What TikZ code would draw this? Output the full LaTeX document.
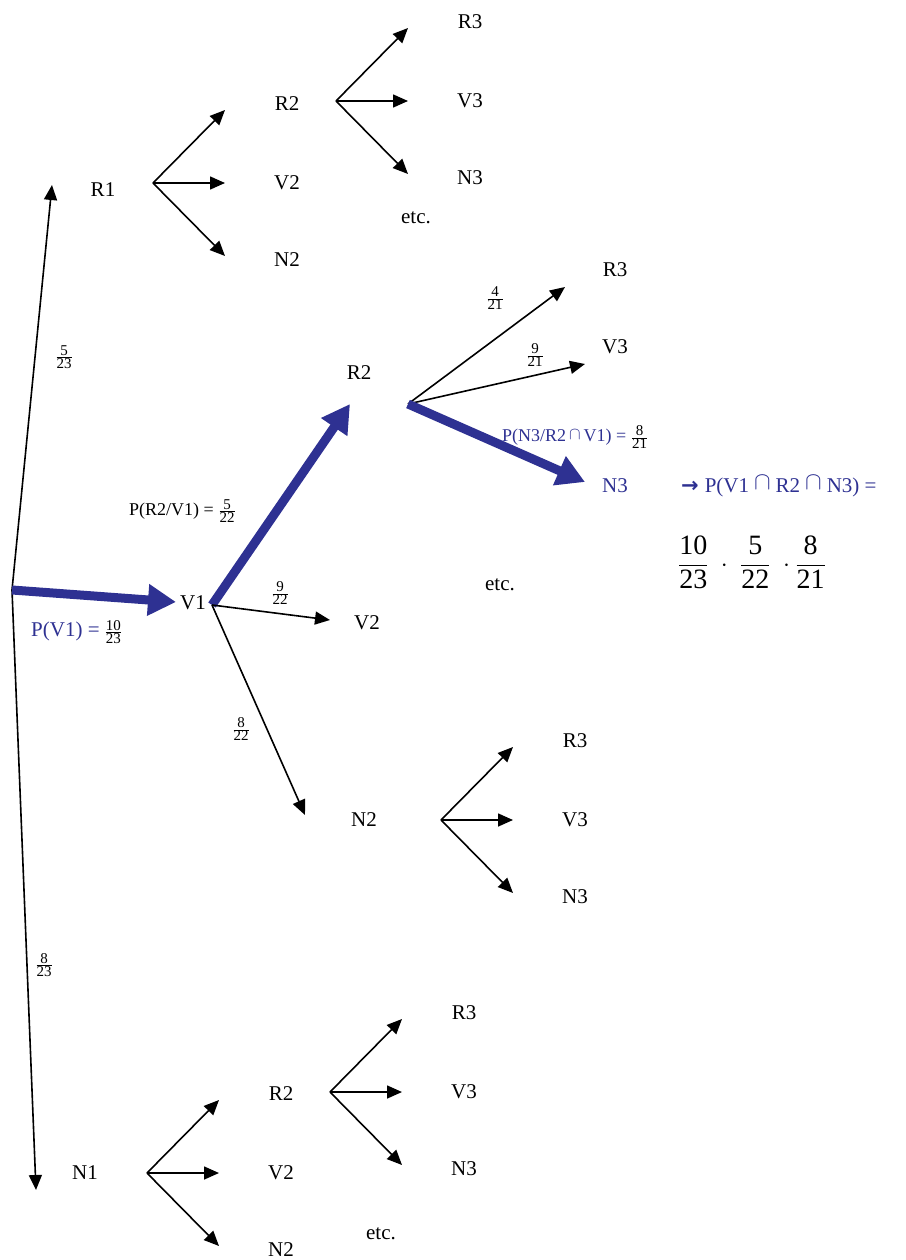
\documentclass[tikz,border=0pt]{standalone}
\usepackage{fontspec}
\setmainfont{Liberation Serif}
\newfontfamily\arrowfont{DejaVu Sans}
\usetikzlibrary{arrows.meta, positioning}

\definecolor{pathblue}{RGB}{46,49,146}
\newcommand{\fr}[2]{{\fontsize{15}{17}\selectfont$\frac{\mbox{#1}}{\mbox{#2}}$}}
\newcommand{\capsign}{\raisebox{3pt}{\fontsize{24}{26}\selectfont$\cap$}}

\begin{document}
\begin{tikzpicture}[
    x=1pt, y=-1pt,
    lbl/.style={inner sep=0pt, font=\fontsize{21}{24}\selectfont},
    note/.style={inner sep=0pt, font=\fontsize{18}{21}\selectfont},
    prob/.style={inner sep=0pt},
    arr/.style={-{Triangle[length=15pt, width=13pt]}, line width=1.6pt},
    patharr/.style={-{Triangle[length=28pt, width=30pt]}, line width=9pt, draw=pathblue}
]
    \useasboundingbox (0,0) rectangle (905,1260);

    % first level
    \coordinate (root) at (12,590);
    \node[lbl] (R1) at (103,190) {R1};
    \node[lbl] (V1) at (193,603) {V1};
    \node[lbl] (N1) at (85,1173) {N1};
    \coordinate (R1tip) at (52,185);
    \coordinate (N1tip) at (36,1190);
    \draw[arr] (root) -- (R1tip);
    \draw[arr] (root) -- (N1tip);
    \draw[patharr] (root) -- (176,602) coordinate (V1tip);
    \node[prob] (pR1) at (64,357) {\fr{5}{23}};
    \node[prob] (pN1) at (44,965) {\fr{8}{23}};
    \node[lbl, anchor=west, text=pathblue] (pV1) at (31,632) {P(V1) =\hspace{5pt}\textcolor{black}{\fr{10}{23}}};

    % plain fans of three
    \foreach \f/\x/\y/\n in {a/153/183/2, b/336/101/3, c/441/820/3, d/147/1173/2, e/330/1092/3} {
        \coordinate (\f) at (\x,\y);
        \path (\f) ++(72,-73) coordinate (\f r) ++(62,-6) node[lbl] (\f R) {R\n};
        \path (\f) ++(72,0) coordinate (\f v) ++(62,0) node[lbl] (\f V) {V\n};
        \path (\f) ++(72,73) coordinate (\f n) ++(62,4) node[lbl] (\f N) {N\n};
        \draw[arr] (\f) -- (\f r);
        \draw[arr] (\f) -- (\f v);
        \draw[arr] (\f) -- (\f n);
    }

    % second level from V1
    \coordinate (v1o) at (212,605);
    \node[lbl] (R2) at (359,373) {R2};
    \node[lbl] (V2) at (367,623) {V2};
    \node[lbl] (N2) at (364,820) {N2};
    \draw[patharr] (v1o) -- (350,404) coordinate (R2tip);
    \draw[arr] (v1o) -- (330,620) coordinate (V2tip);
    \draw[arr] (v1o) -- (305,815) coordinate (N2tip);
    \node[note, anchor=west] (pR2) at (129,511) {P(R2/V1) = \fr{5}{22}};
    \node[prob] (pV2) at (280,593) {\fr{9}{22}};
    \node[prob] (pN2) at (241,729) {\fr{8}{22}};

    % third level from R2
    \coordinate (r2o) at (408,404);
    \node[lbl] (R3) at (615,270) {R3};
    \node[lbl] (V3) at (615,347) {V3};
    \node[lbl, text=pathblue] (N3) at (615,486) {N3};
    \draw[arr] (r2o) -- (565,287) coordinate (R3tip);
    \draw[arr] (r2o) -- (585,364) coordinate (V3tip);
    \draw[patharr] (r2o) -- (585,482) coordinate (N3tip);
    \node[prob] (pR3) at (495,298) {\fr{4}{21}};
    \node[prob] (pV3) at (535,355) {\fr{9}{21}};
    \node[note, anchor=west, text=pathblue] (pN3) at (502,437) {P(N3/R2\,\raisebox{2pt}{$\cap$}\,V1) = \textcolor{black}{\fr{8}{21}}};

    % result
    \node[lbl, anchor=west, text=pathblue] (res) at (681,486)
        {{\arrowfont\bfseries →}\hspace{6pt}P(V1\hspace{5pt}\capsign\hspace{5pt}R2\hspace{5pt}\capsign\hspace{5pt}N3) =};
    \node[prob, font=\fontsize{28}{32}\selectfont] (prod) at (752,562)
        {$\displaystyle\frac{\mbox{10}}{\mbox{23}}\;\cdot\;\frac{\mbox{5}}{\mbox{22}}\;\cdot\frac{\mbox{8}}{\mbox{21}}$};

    % etc.
    \node[lbl] (etc1) at (416,218) {etc.};
    \node[lbl] (etc2) at (500,585) {etc.};
    \node[lbl] (etc3) at (381,1234) {etc.};
\end{tikzpicture}
\end{document}
